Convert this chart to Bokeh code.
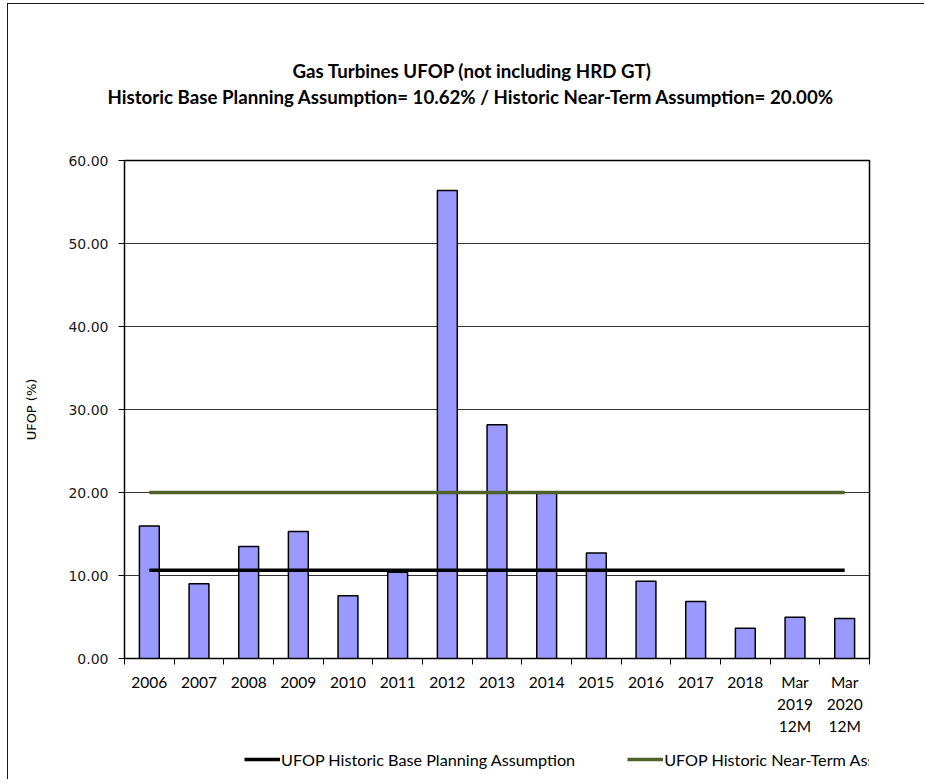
from bokeh.plotting import figure
from bokeh.layouts import column
from bokeh.models import (Range1d, FixedTicker, NumeralTickFormatter, Legend, LegendItem, Title,
                          ColumnDataSource)
from bokeh.embed import file_html
from bokeh.resources import INLINE

# ---- data ----
categories = ["2006", "2007", "2008", "2009", "2010", "2011", "2012", "2013", "2014",
              "2015", "2016", "2017", "2018", "Mar\n2019\n12M", "Mar\n2020\n12M"]
ufop_values = [15.95, 9.00, 13.50, 15.30, 7.55, 10.40, 56.40, 28.15, 19.95,
               12.70, 9.30, 6.87, 3.65, 4.98, 4.82]
base_planning = [10.62, 10.62, 10.62, 10.62, 10.62, 10.62, 10.62, 10.62, 10.62,
                 10.62, 10.62, 10.62, 10.62, 10.62, 10.62]
near_term = [20.00, 20.00, 20.00, 20.00, 20.00, 20.00, 20.00, 20.00, 20.00,
             20.00, 20.00, 20.00, 20.00, 20.00, 20.00]
y_ticks = [0, 10, 20, 30, 40, 50, 60]
title_line1 = "Gas Turbines UFOP (not including HRD GT)"
title_line2 = "Historic Base Planning  Assumption= 10.62% / Historic Near-Term Assumption= 20.00%"
legend_labels = ["UFOP Historic Base Planning Assumption", "UFOP Historic Near-Term Assumption"]
y_label = "UFOP (%)"

LABEL_FONT = "Lato"
NUM_FONT = "DejaVu Sans"
BASE_COLOR = "black"
NEAR_COLOR = "#4F6228"

# category slots on a numeric axis so ticks can sit on the slot boundaries
n = len(categories)
slot_centres = [i + 0.5 for i in range(n)]
slot_bounds = [i for i in range(n + 1)]

src = ColumnDataSource(dict(x=slot_centres, ufop=ufop_values,
                            base=base_planning, near=near_term))

p = figure(width=917, height=746, output_backend="svg", toolbar_location=None,
           x_range=Range1d(0, n), y_range=Range1d(0, 60),
           min_border_left=116, min_border_right=56,
           min_border_top=156, min_border_bottom=92,
           background_fill_color="white", border_fill_color="white",
           margin=(3, 0, 0, 7),
           styles={"border-left": "1px solid #1a1a1a", "border-top": "1px solid #1a1a1a"})

p.outline_line_color = "black"
p.outline_line_width = 1.5

# bars
p.vbar(x="x", top="ufop", width=0.4, source=src, fill_color="#9999FF",
       line_color="black", line_width=1.5)

# reference lines
p.line(x="x", y="base", source=src, line_color=BASE_COLOR, line_width=3.5)
p.line(x="x", y="near", source=src, line_color=NEAR_COLOR, line_width=3.5)

# y axis
yax = p.yaxis[0]
yax.ticker = FixedTicker(ticks=y_ticks)
yax.formatter = NumeralTickFormatter(format="0.00")
yax.axis_label = y_label
yax.axis_label_text_font = NUM_FONT
yax.axis_label_text_font_size = "13px"
yax.axis_label_text_font_style = "normal"
yax.axis_label_text_color = "black"
yax.axis_label_standoff = 26
yax.major_label_text_font = NUM_FONT
yax.major_label_text_font_size = "14px"
yax.major_label_text_color = "#1a1a1a"
yax.major_label_standoff = 10
yax.major_tick_in = 0
yax.major_tick_out = 6
yax.minor_tick_line_color = None
yax.axis_line_color = "black"
yax.major_tick_line_color = "black"

p.ygrid.ticker = FixedTicker(ticks=y_ticks)
p.ygrid.grid_line_color = "#333333"
p.ygrid.grid_line_width = 1
p.xgrid.grid_line_color = None

# x axis: ticks at category boundaries, labels at category centres
xax = p.xaxis[0]
xax.ticker = FixedTicker(ticks=slot_centres, minor_ticks=slot_bounds)
xax.major_label_overrides = {c: lab for c, lab in zip(slot_centres, categories)}
xax.major_tick_line_color = None
xax.major_tick_in = 0
xax.major_tick_out = 6
xax.minor_tick_in = 0
xax.minor_tick_out = 6
xax.minor_tick_line_color = "black"
xax.axis_line_color = "black"
xax.major_label_text_font = LABEL_FONT
xax.major_label_text_font_size = "15.5px"
xax.major_label_text_color = "black"
xax.major_label_text_line_height = 1.23
xax.major_label_standoff = 8

# title: spacer nearest the plot, then line 2, then line 1
spacer = Title(text=" ", text_font=LABEL_FONT, text_font_size="18.7px", standoff=28)
t2 = Title(text=title_line2, align="left", offset=-17,
           text_font=LABEL_FONT, text_font_style="bold", text_font_size="18.7px",
           text_color="black", standoff=1.5)
t1 = Title(text=title_line1, align="left", offset=168,
           text_font=LABEL_FONT, text_font_style="bold", text_font_size="18.7px",
           text_color="black", standoff=1.5)
p.add_layout(spacer, "above")
p.add_layout(t2, "above")
p.add_layout(t1, "above")

# ---- legend strip underneath the chart ----
leg = figure(width=917, height=30, output_backend="svg", toolbar_location=None,
             x_range=Range1d(100, 101), y_range=Range1d(0, 60),
             x_axis_location=None, y_axis_location=None,
             min_border_left=0, min_border_right=0, min_border_top=0, min_border_bottom=0,
             background_fill_color="white", border_fill_color="white",
             margin=(0, 0, 0, 7), styles={"border-left": "1px solid #1a1a1a"})
leg.outline_line_color = None
leg.grid.visible = False
lb = leg.line(x="x", y="base", source=src, line_color=BASE_COLOR, line_width=3.5)
ln = leg.line(x="x", y="near", source=src, line_color=NEAR_COLOR, line_width=3.5)
legend = Legend(items=[LegendItem(label=legend_labels[0], renderers=[lb]),
                       LegendItem(label=legend_labels[1], renderers=[ln])],
                orientation="horizontal", location=(120, 10),
                margin=0, padding=0, glyph_width=36, glyph_height=20, label_height=20,
                label_standoff=1, spacing=52,
                label_text_font=LABEL_FONT, label_text_font_size="16.2px",
                label_text_color="black",
                border_line_color=None, background_fill_alpha=0)
leg.add_layout(legend, "center")

layout = column(p, leg, spacing=0)
open("out.html", "w").write(file_html(layout, INLINE))
